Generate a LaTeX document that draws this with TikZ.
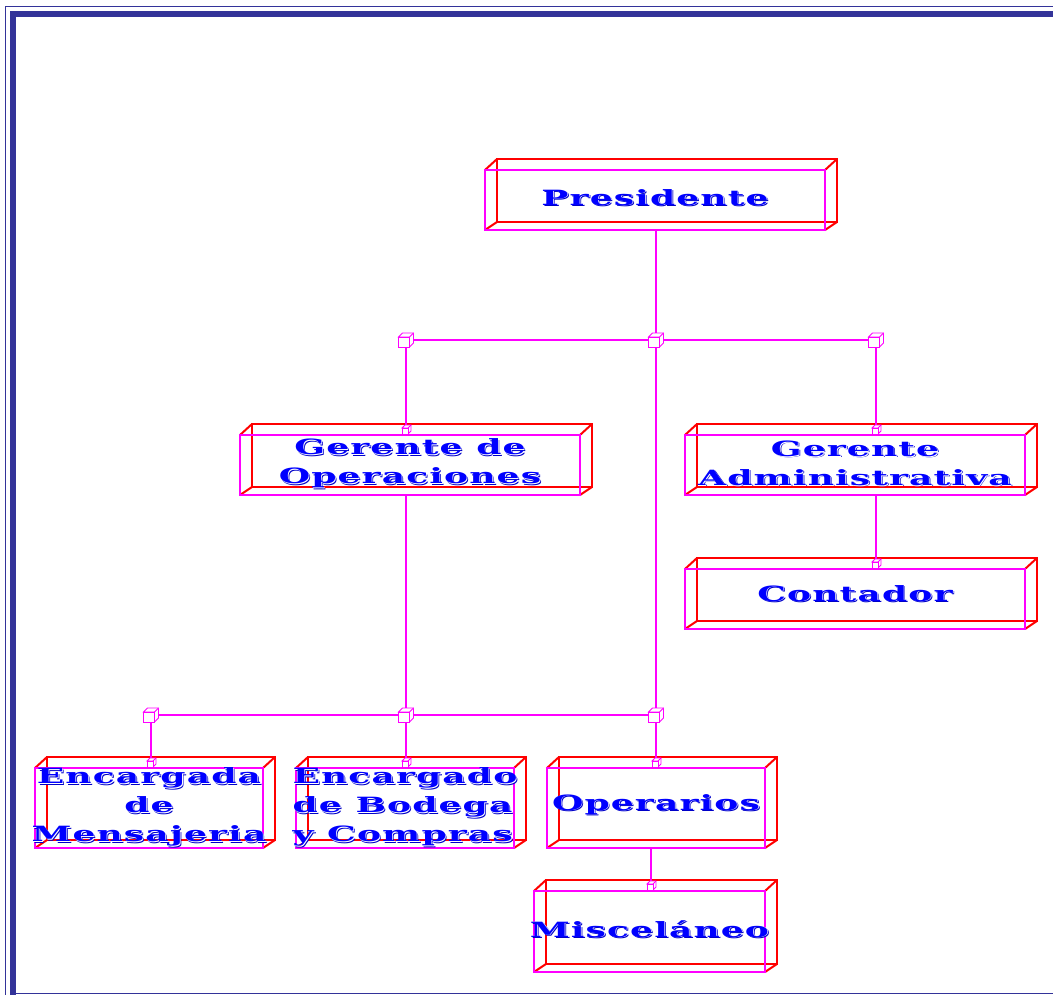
\documentclass[tikz,border=0pt]{standalone}
\usepackage{fontspec}
\usepackage{graphicx}
\newfontfamily\wfont[LetterSpace=3]{DejaVu Serif Bold}
\usetikzlibrary{calc}
\pgfdeclarelayer{back}
\pgfsetlayers{back,main}
\definecolor{mag}{RGB}{255,0,255}
\definecolor{rd}{RGB}{255,0,0}
\definecolor{tb}{RGB}{0,0,255}
\definecolor{tbs}{RGB}{0,0,200}
\definecolor{navy}{RGB}{51,51,153}
\newcommand\wt[1]{\scalebox{1.72}[1]{\rlap{\kern.85pt\raisebox{-1.5pt}{\color{tbs}#1}}\rlap{\kern.42pt\raisebox{-.75pt}{\color{white}#1}}{\color{tb}#1}}}
\tikzset{
  frontbox/.style={draw=mag, line width=2pt, inner sep=0pt, outer sep=0pt, rectangle},
  boxtext/.style={inner sep=0pt, outer sep=0pt, align=center, font=\wfont\fontsize{21}{29}\selectfont},
  backline/.style={draw=rd, line width=2pt},
  link/.style={draw=mag, line width=2pt},
  cubeline/.style={draw=mag, fill=white, line join=miter},
  frame/.style={draw=navy},
}
% #1 text options, #2 name, #3 centre, #4 width, #5 height, #6 text
\newcommand\obox[6][]{%
  \node[frontbox, minimum width=#4, minimum height=#5] (#2) at (#3) {};
  \node[boxtext, #1] (#2t) at (#2.center) {#6};
  \begin{pgfonlayer}{back}
    \draw[backline] ($(#2.north west)+(12,-11)$) rectangle ($(#2.south east)+(12,-8)$);
    \draw[backline] (#2.north west) -- ++(12,-11) (#2.north east) -- ++(12,-11)
      (#2.south east) -- ++(12,-8) (#2.south west) -- ++(12,-8);
  \end{pgfonlayer}}
% #1 front centre, #2 w, #3 h, #4 depth, #5 line width
\newcommand\cube[5]{%
  \begin{scope}[shift={#1}]
    \filldraw[cubeline, line width=#5] (-#2/2,-#3/2) -- ++(#4,-#4) -- ++(#2,0) -- ++(0,#3) -- ++(-#4,#4) -- ++(0,-#3) -- cycle;
    \draw[cubeline, line width=#5] (-#2/2,-#3/2) rectangle (#2/2,#3/2);
    \draw[cubeline, line width=#5] (#2/2,-#3/2) -- ++(#4,-#4);
  \end{scope}}
\begin{document}
\begin{tikzpicture}[x=1pt,y=-1pt]
\useasboundingbox (0,0) rectangle (1053,995);
% frame
\draw[frame, line width=1.5pt] (5.5,1000) -- (5.5,6.5) -- (1060,6.5);
\draw[frame, line width=6.5pt] (12.75,1000) -- (12.75,14) -- (1060,14);
\draw[frame, line width=1.5pt] (16,993.5) -- (1060,993.5);
% boxes
\obox[yshift=2pt]{pres}{655,200}{340pt}{60pt}{\wt{Presidente}}
\obox[yshift=1pt]{gop}{410,465}{340pt}{60pt}{\wt{Gerente de}\\\wt{Operaciones}}
\obox[yshift=1pt]{gad}{855,465}{340pt}{60pt}{\wt{Gerente}\\\wt{Administrativa}}
\obox[yshift=5pt]{con}{855,599}{340pt}{60pt}{\wt{Contador}}
\obox{enc1}{149,808}{228pt}{80pt}{\wt{Encargada}\\\wt{de}\\\wt{Mensajeria}}
\obox[align=left]{enc2}{405,808}{218pt}{80pt}{\wt{Encargado}\\\wt{de Bodega}\\\wt{y Compras}}
\obox[yshift=3pt]{ope}{656,808}{218pt}{80pt}{\wt{Operarios}}
\obox[yshift=2pt]{mis}{649.5,931.5}{231pt}{81pt}{\wt{Misceláneo}}
% junctions
\coordinate (j1) at (406,340);
\coordinate (j2) at (656,340);
\coordinate (j3) at (876,340);
\coordinate (k1) at (151,715);
\coordinate (k2) at (406,715);
\coordinate (k3) at (656,715);
\coordinate (om) at (651,870);
% connectors
\draw[link] (j2 |- pres.south) -- (j2);
\draw[link] (j1) -- (j3);
\draw[link] (j1) -- (j1 |- gop.north);
\draw[link] (j3) -- (j3 |- gad.north);
\draw[link] (j2) -- (k3) -- (k3 |- ope.north);
\draw[link] (k2 |- gop.south) -- (k2);
\draw[link] (k1) -- (k3);
\draw[link] (k1) -- (k1 |- enc1.north);
\draw[link] (k2) -- (k2 |- enc2.north);
\draw[link] (j3 |- gad.south) -- (j3 |- con.north);
\draw[link] (om |- ope.south) -- (om |- mis.north);
% junction cubes
\foreach \j in {j1,j2,j3,k1,k2,k3}{\cube{($(\j)+(-2,2)$)}{11}{10}{4}{0.9pt}}
% small cubes on box tops
\cube{($(j1 |- gop.north)+(-1,-4)$)}{6}{6}{3}{0.8pt}
\cube{($(j3 |- gad.north)+(-1,-4)$)}{6}{6}{3}{0.8pt}
\cube{($(j3 |- con.north)+(-1,-4)$)}{6}{6}{3}{0.8pt}
\cube{($(k1 |- enc1.north)+(-1,-4)$)}{6}{6}{3}{0.8pt}
\cube{($(k2 |- enc2.north)+(-1,-4)$)}{6}{6}{3}{0.8pt}
\cube{($(k3 |- ope.north)+(-1,-4)$)}{6}{6}{3}{0.8pt}
\cube{($(om |- mis.north)+(-1,-4)$)}{6}{6}{3}{0.8pt}
\end{tikzpicture}
\end{document}
